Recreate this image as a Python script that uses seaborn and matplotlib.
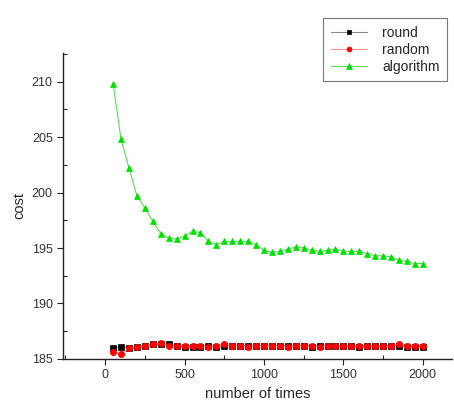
import numpy as np
import pandas as pd
import matplotlib
matplotlib.use("Agg")
import matplotlib.pyplot as plt
import seaborn as sns
from matplotlib.ticker import MultipleLocator

sns.set_style("ticks")
plt.rcParams['font.family'] = ['Liberation Sans', 'DejaVu Sans']

times = list(range(50, 2001, 50))
round_cost = [186.0, 186.1, 186.0, 186.1, 186.2, 186.3, 186.3, 186.3, 186.2, 186.1,
              186.1, 186.1, 186.2, 186.1, 186.2, 186.2, 186.2, 186.2, 186.2, 186.2,
              186.2, 186.2, 186.2, 186.2, 186.2, 186.1, 186.2, 186.2, 186.2, 186.2,
              186.2, 186.1, 186.2, 186.2, 186.2, 186.2, 186.2, 186.1, 186.1, 186.1]
random_cost = [185.6, 185.4, 186.0, 186.1, 186.2, 186.3, 186.4, 186.2, 186.2, 186.2,
               186.2, 186.2, 186.1, 186.2, 186.3, 186.2, 186.2, 186.1, 186.2, 186.2,
               186.2, 186.2, 186.1, 186.2, 186.2, 186.2, 186.1, 186.2, 186.2, 186.2,
               186.2, 186.2, 186.2, 186.2, 186.2, 186.2, 186.3, 186.2, 186.2, 186.2]
algorithm_cost = [209.8, 204.8, 202.2, 199.7, 198.6, 197.4, 196.3, 195.9, 195.8, 196.1,
                  196.5, 196.4, 195.6, 195.3, 195.6, 195.6, 195.6, 195.6, 195.3, 194.8,
                  194.6, 194.7, 194.9, 195.1, 195.0, 194.8, 194.7, 194.8, 194.9, 194.7,
                  194.7, 194.7, 194.5, 194.3, 194.3, 194.2, 193.9, 193.8, 193.6, 193.6]
series_names = ["round", "random", "algorithm"]

fig = plt.figure(figsize=(4.54, 4.01), dpi=100)
ax = fig.add_axes([0.139, 0.105, 0.857, 0.763])

# (line colour, marker colour, marker, size)
styles = [("#888888", "black", "s", 4.0),
          ("#ff9090", "red", "o", 4.5),
          ("#55dd55", "#00e000", "^", 5.0)]
for name, vals, (lc, mc, m, ms) in zip(series_names, [round_cost, random_cost, algorithm_cost], styles):
    df = pd.DataFrame({"x": times, "y": vals})
    sns.lineplot(data=df, x="x", y="y", ax=ax, color=lc, marker=m, markersize=ms,
                 markerfacecolor=mc, markeredgecolor=mc, markeredgewidth=0.5,
                 linewidth=0.8, label=name)

ax.set_xlim(-265, 2185)
ax.set_ylim(185, 212.6)
ax.xaxis.set_major_locator(MultipleLocator(500))
ax.xaxis.set_minor_locator(MultipleLocator(250))
ax.yaxis.set_major_locator(MultipleLocator(5))
ax.yaxis.set_minor_locator(MultipleLocator(2.5))
ax.tick_params(axis='both', which='major', direction='out', length=4, width=0.8, labelsize=9,
               colors='#222222', labelcolor='#333333')
ax.tick_params(axis='both', which='minor', direction='in', length=3, width=0.8)
ax.set_xlabel("number of times", fontsize=10.5, labelpad=4)
ax.set_ylabel("cost", fontsize=10.5)
sns.despine(ax=ax)
for s in ["left", "bottom"]:
    ax.spines[s].set_linewidth(1.0)
    ax.spines[s].set_color("#222222")

leg = ax.legend(loc="upper right", bbox_to_anchor=(0.987, 1.113), fontsize=10, frameon=True,
                fancybox=False, edgecolor="#555555", borderpad=0.55, handlelength=2.6,
                labelspacing=0.2, handletextpad=1.1, markerscale=0.8, borderaxespad=0)
leg.get_frame().set_linewidth(0.8)

fig.savefig("out.png", dpi=100)
